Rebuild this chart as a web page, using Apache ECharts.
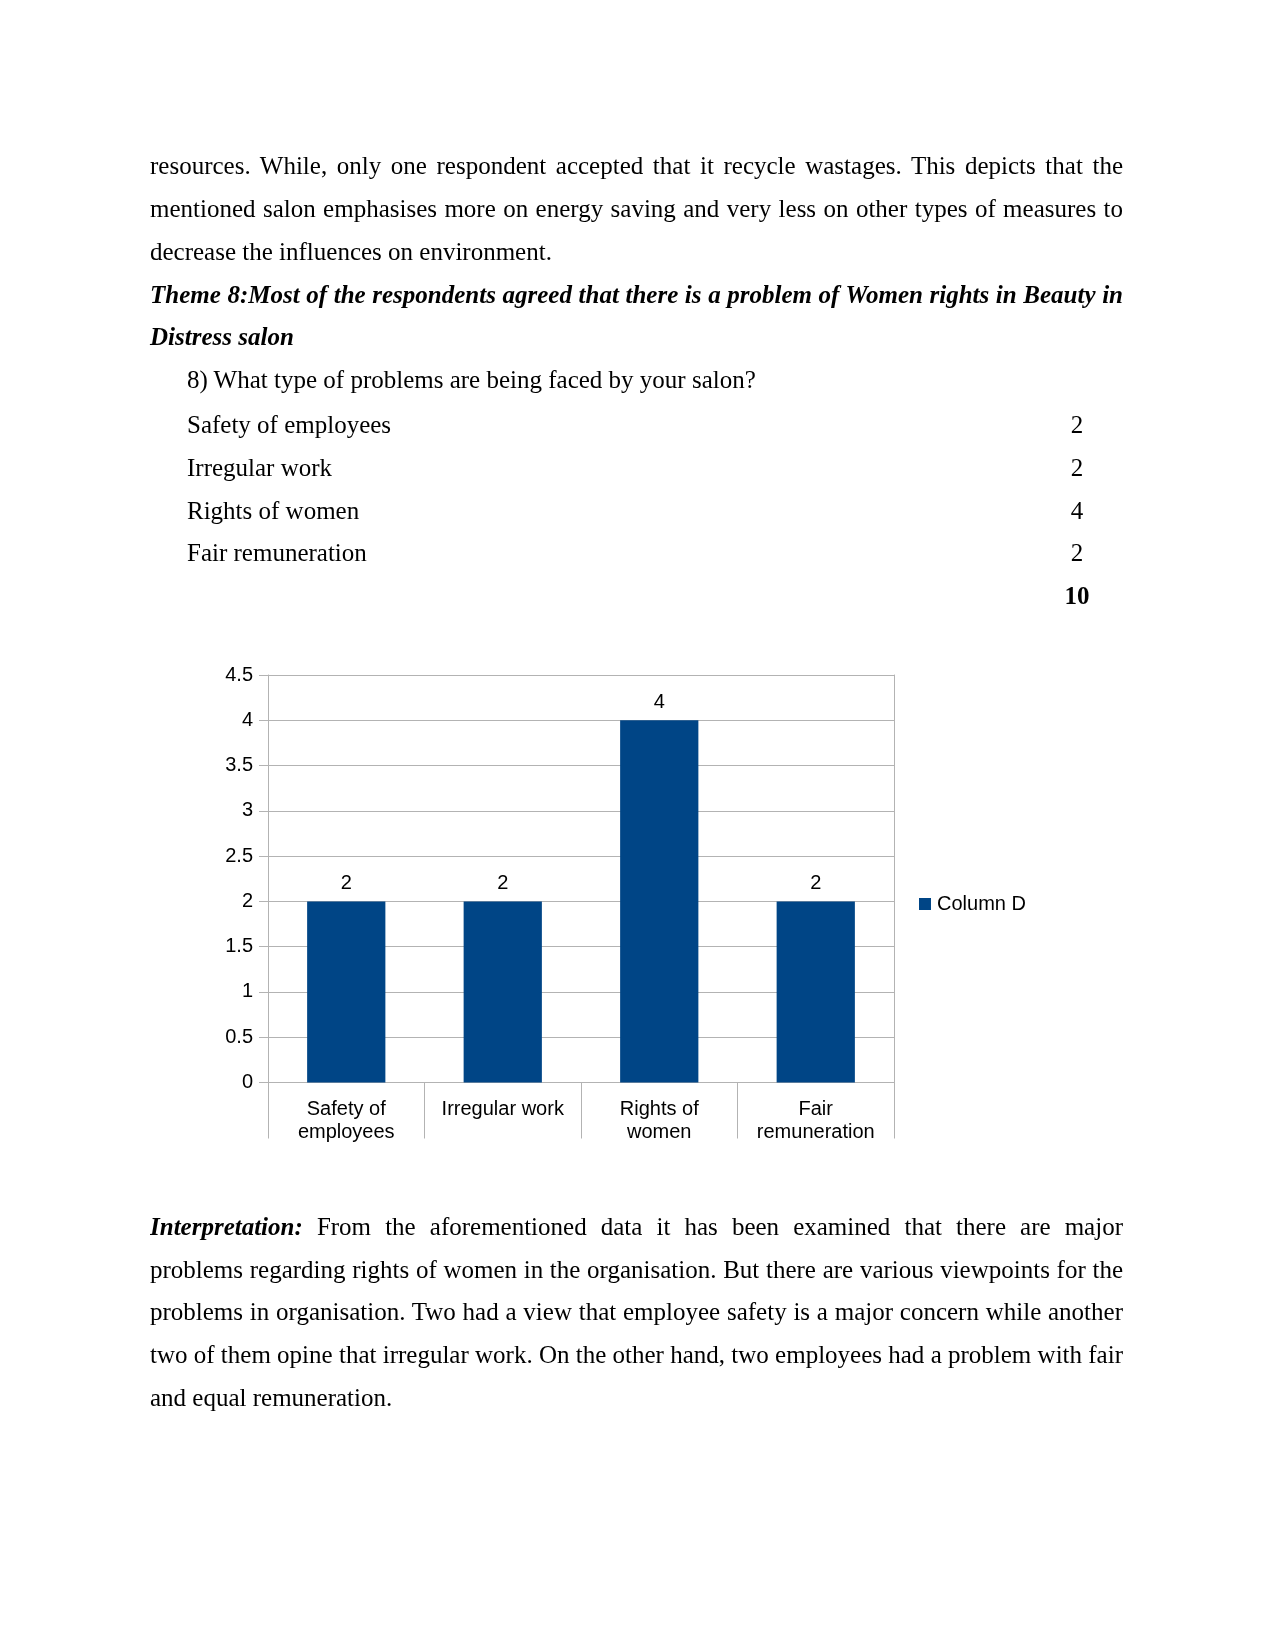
<!DOCTYPE html>
<html>
<head>
<meta charset="utf-8">
<script src="https://cdn.jsdelivr.net/npm/echarts@6/dist/echarts.min.js"></script>
<style>
  html, body { margin: 0; padding: 0; background: #fff; }
  #page { position: relative; width: 1275px; height: 1651px; overflow: hidden; background: #fff; }
  #chart { position: absolute; left: 0; top: 0; width: 1275px; height: 1651px; }
  .ln { position: absolute; font-family: "Liberation Serif", "Times New Roman", serif; font-size: 25px;
        line-height: 43px; height: 43px; color: #000; white-space: nowrap; z-index: 2; }
  .just { left: 150px; width: 973px; text-align: justify; text-align-last: justify; white-space: normal; overflow: hidden; }
  .left { left: 150px; }
  .ind { left: 187px; }
  .num { left: 1050px; width: 54px; text-align: center; }
  .bi { font-weight: bold; font-style: italic; }
</style>
</head>
<body>
<div id="page">
  <div id="chart"></div>
  <div class="ln just" style="top:144px">resources. While, only one respondent accepted that it recycle wastages. This depicts that the</div>
  <div class="ln just" style="top:187px">mentioned salon emphasises more on energy saving and very less on other types of measures to</div>
  <div class="ln left" style="top:230px">decrease the influences on environment.</div>
  <div class="ln just bi" style="top:273px">Theme 8:Most of the respondents agreed that there is a problem of Women rights in Beauty in</div>
  <div class="ln left bi" style="top:315px">Distress salon</div>
  <div class="ln ind" style="top:358px">8) What type of problems are being faced by your salon?</div>
  <div id="tbl"></div>
  <div class="ln just" style="top:1205px"><b><i>Interpretation:</i></b> From the aforementioned data it has been examined that there are major</div>
  <div class="ln just" style="top:1248px">problems regarding rights of women in the organisation. But there are various viewpoints for the</div>
  <div class="ln just" style="top:1290px">problems in organisation. Two had a view that employee safety is a major concern while another</div>
  <div class="ln just" style="top:1333px">two of them opine that irregular work. On the other hand, two employees had a problem with fair</div>
  <div class="ln left" style="top:1376px">and equal remuneration.</div>
</div>
<script>
const tableLabels = ["Safety of employees", "Irregular work", "Rights of women", "Fair remuneration"];
const categories = ["Safety of\nemployees", "Irregular work", "Rights of\nwomen", "Fair\nremuneration"];
const values = [2, 2, 4, 2];
const total = 10;
const seriesName = "Column D";
const yMin = 0, yMax = 4.5, yInterval = 0.5;

// Table rows (text)
const tbl = document.getElementById('tbl');
const rowTops = [403, 446, 489, 531];
tableLabels.forEach((lab, i) => {
  const a = document.createElement('div');
  a.className = 'ln ind'; a.style.top = rowTops[i] + 'px'; a.textContent = lab;
  const b = document.createElement('div');
  b.className = 'ln num'; b.style.top = rowTops[i] + 'px'; b.textContent = String(values[i]);
  tbl.appendChild(a); tbl.appendChild(b);
});
const t = document.createElement('div');
t.className = 'ln num'; t.style.top = '574px'; t.style.fontWeight = 'bold'; t.textContent = String(total);
tbl.appendChild(t);

const chart = echarts.init(document.getElementById('chart'), null, { renderer: 'canvas' });
const font = '"Liberation Sans", Arial, sans-serif';
const gridColor = '#b3b3b3';
chart.setOption({
  animation: false,
  backgroundColor: 'transparent',
  textStyle: { fontFamily: font },
  grid: { left: 268, right: 381, top: 675, bottom: 568.5, containLabel: false },
  legend: {
    data: [seriesName], left: 919, top: 894, padding: 0, icon: 'rect', itemWidth: 12, itemHeight: 12, itemGap: 10,
    textStyle: { fontFamily: font, fontSize: 20, color: '#000', padding: [0, 0, 0, 1] }
  },
  xAxis: {
    type: 'category', data: categories,
    axisLine: { show: true, lineStyle: { color: gridColor, width: 1 } },
    axisTick: { show: true, length: 56, interval: 0, lineStyle: { color: gridColor } },
    axisLabel: { interval: 0, margin: 15, fontFamily: font, fontSize: 20, lineHeight: 23, color: '#000' },
    splitLine: { show: false }
  },
  yAxis: [{
    type: 'value', min: yMin, max: yMax, interval: yInterval, position: 'left',
    axisLine: { show: true, lineStyle: { color: gridColor } },
    axisTick: { show: true, length: 9, lineStyle: { color: gridColor } },
    axisLabel: { margin: 15, fontFamily: font, fontSize: 20, color: '#000' },
    splitLine: { show: true, lineStyle: { color: gridColor, width: 1 } }
  }, {
    type: 'value', min: yMin, max: yMax, interval: yInterval, position: 'right',
    axisLine: { show: true, lineStyle: { color: gridColor } },
    axisTick: { show: false }, axisLabel: { show: false }, splitLine: { show: false }
  }],
  series: [{
    name: seriesName, type: 'bar', data: values, yAxisIndex: 0,
    barCategoryGap: '50%',
    itemStyle: { color: '#004586' },
    label: { show: true, position: 'top', distance: 8, fontFamily: font, fontSize: 20, color: '#000' }
  }]
});
</script>
</body>
</html>
